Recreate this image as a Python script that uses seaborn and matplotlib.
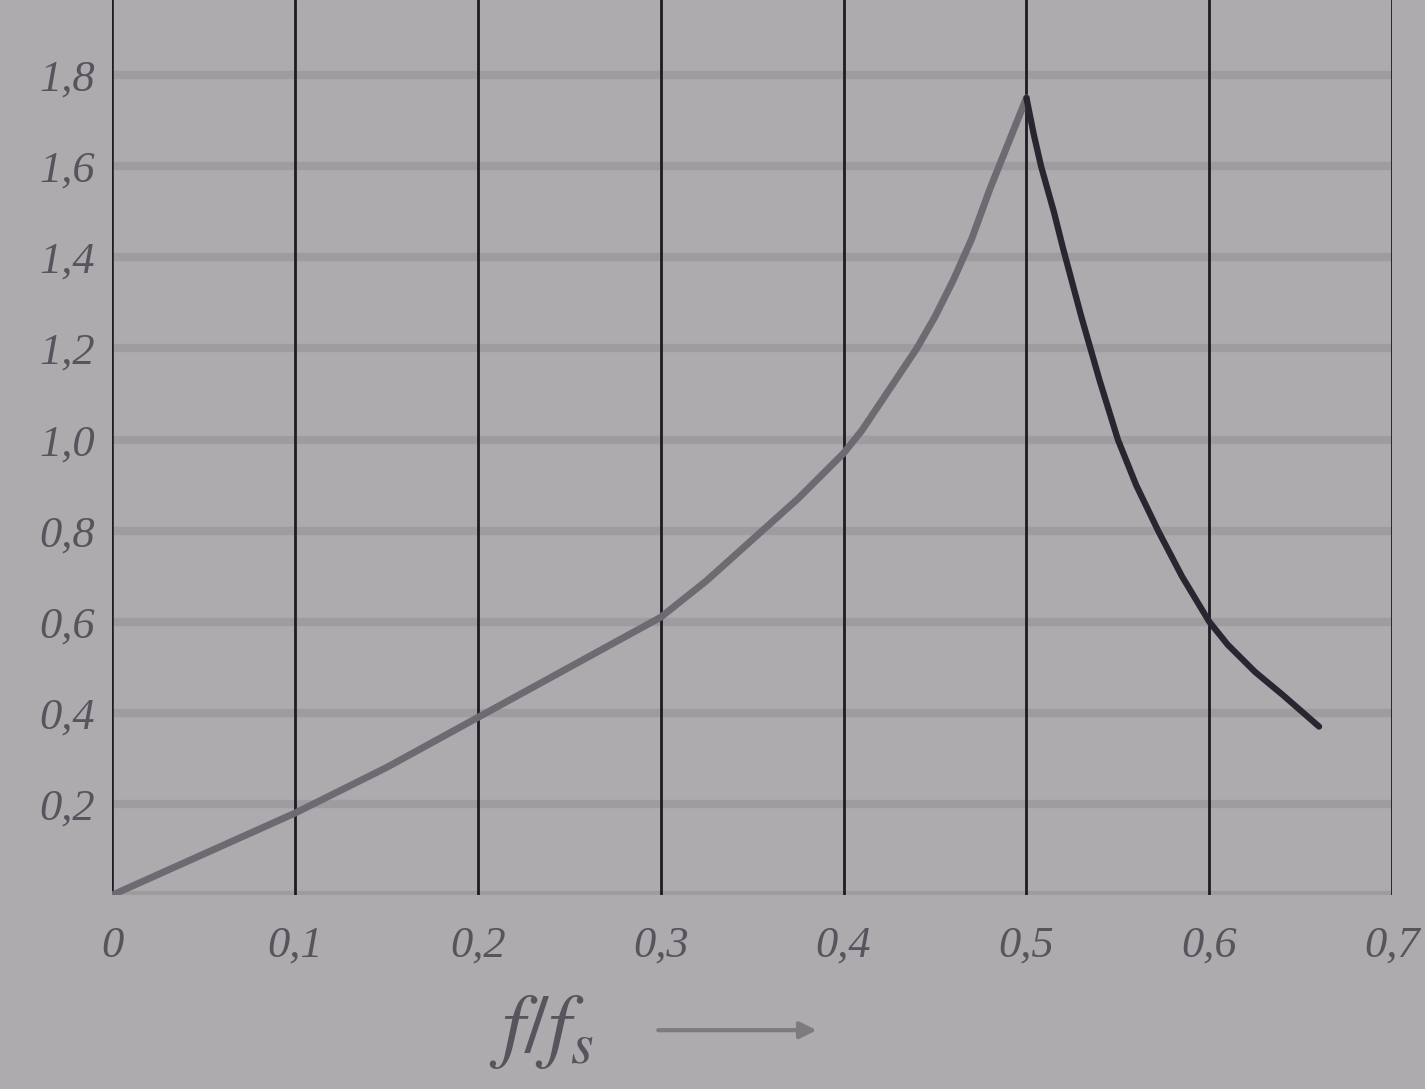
import numpy as np
import pandas as pd
import matplotlib
matplotlib.use("Agg")
import matplotlib.pyplot as plt
import seaborn as sns

# ---- data ----
rise_x = [0.00, 0.05, 0.10, 0.15, 0.20, 0.25, 0.30, 0.325, 0.35, 0.375, 0.40,
          0.41, 0.42, 0.43, 0.44, 0.45, 0.46, 0.47, 0.48, 0.49, 0.50]
rise_y = [0.00, 0.09, 0.18, 0.28, 0.39, 0.50, 0.61, 0.69, 0.78, 0.87, 0.97,
          1.02, 1.08, 1.14, 1.20, 1.27, 1.35, 1.44, 1.55, 1.65, 1.75]
fall_x = [0.50, 0.504, 0.508, 0.515, 0.52, 0.53, 0.535, 0.54, 0.55, 0.56,
          0.572, 0.585, 0.60, 0.61, 0.625, 0.64, 0.66]
fall_y = [1.75, 1.67, 1.60, 1.50, 1.42, 1.27, 1.20, 1.13, 1.00, 0.90,
          0.80, 0.70, 0.60, 0.55, 0.49, 0.44, 0.37]

x_ticks = [0.0, 0.1, 0.2, 0.3, 0.4, 0.5, 0.6, 0.7]
x_tick_labels = ["0", "0,1", "0,2", "0,3", "0,4", "0,5", "0,6", "0,7"]
y_ticks = [0.2, 0.4, 0.6, 0.8, 1.0, 1.2, 1.4, 1.6, 1.8]
y_tick_labels = ["0,2", "0,4", "0,6", "0,8", "1,0", "1,2", "1,4", "1,6", "1,8"]
x_label = r"$f/f_s$"

sns.set_theme(style="white")
plt.rcParams["font.family"] = ["Liberation Serif", "DejaVu Serif"]
plt.rcParams["mathtext.fontset"] = "stix"

bg = "#adabad"
fig = plt.figure(figsize=(14.25, 10.89), dpi=100, facecolor=bg)
ax = fig.add_axes([0.0786, 0.178, 0.8984, 0.822])
ax.set_facecolor(bg)

df_rise = pd.DataFrame({"x": rise_x, "y": rise_y})
df_fall = pd.DataFrame({"x": fall_x, "y": fall_y})

ax.set_xlim(0, 0.7)
ax.set_ylim(0, 1.965)

# grid: soft horizontal bands, dark thin vertical lines
for yv in [0.0] + y_ticks:
    ax.axhline(yv, color="#949297", lw=6, alpha=0.6, zorder=1)
for xv in x_ticks:
    ax.axvline(xv, color="#1e1c22", lw=2.0 if xv > 0 else 2.6, zorder=2)

sns.lineplot(data=df_rise, x="x", y="y", ax=ax, color="#6e6a72", lw=5, zorder=3)
sns.lineplot(data=df_fall, x="x", y="y", ax=ax, color="#2a2531", lw=4.5, zorder=3)

for s in ax.spines.values():
    s.set_visible(False)

ax.set_xticks(x_ticks)
ax.set_xticklabels(x_tick_labels)
ax.set_yticks(y_ticks)
ax.set_yticklabels(y_tick_labels)
ax.tick_params(axis="both", length=0, labelsize=32, labelcolor="#57545d")
ax.tick_params(axis="x", pad=22)
ax.tick_params(axis="y", pad=12)
for lab in ax.get_xticklabels() + ax.get_yticklabels():
    lab.set_fontstyle("italic")
ax.set_xlabel("")
ax.set_ylabel("")

fig.text(0.38, 0.052, x_label, fontsize=60, color="#57545d",
         ha="center", va="center")
ax.annotate("", xy=(0.575, 0.054), xytext=(0.46, 0.054),
            xycoords="figure fraction", textcoords="figure fraction",
            arrowprops=dict(arrowstyle="-|>", color="#7d7a80", lw=3,
                            mutation_scale=25))

fig.savefig("out.png", dpi=100, facecolor=bg)
